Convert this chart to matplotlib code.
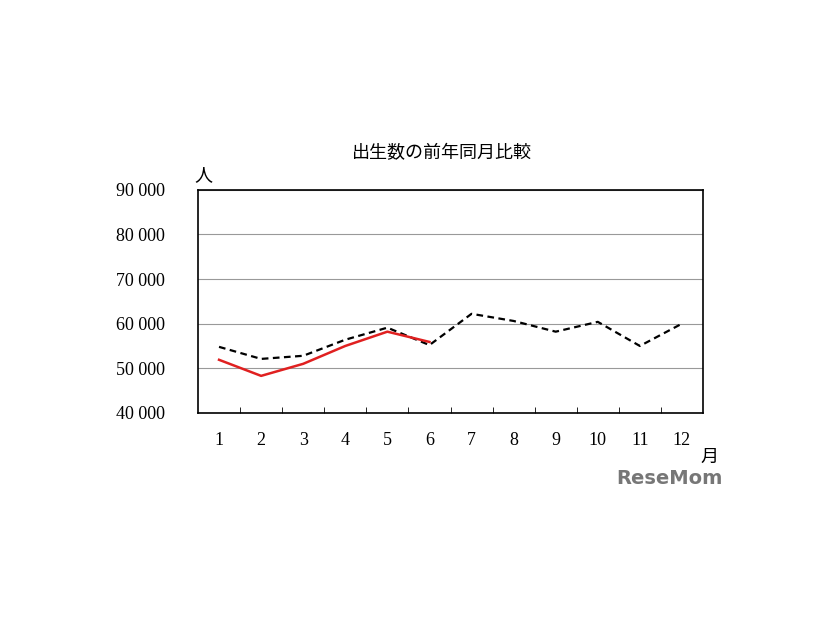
import matplotlib
matplotlib.use("Agg")
import matplotlib.pyplot as plt

months = list(range(1, 13))
prev_year = [54800, 52100, 52800, 56400, 59100, 55200, 62200, 60600, 58200, 60400, 55000, 60000]
this_year = [51900, 48300, 51000, 55000, 58200, 55900]
yticks = [40000, 50000, 60000, 70000, 80000, 90000]
ytick_labels = ["40 000", "50 000", "60 000", "70 000", "80 000", "90 000"]

cjk = ["Noto Sans CJK JP", "DejaVu Sans"]
serif = "Liberation Serif"

fig = plt.figure(figsize=(8.26, 6.2), dpi=100)
ax = fig.add_axes([0.2397, 0.334, 0.6114, 0.360])
ax.plot(months, prev_year, color="black", linestyle=(0, (3, 2)), linewidth=1.6)
ax.plot(months[:len(this_year)], this_year, color="#e02020", linewidth=1.8)
ax.set_xlim(0.5, 12.5)
ax.set_ylim(40000, 90000)
ax.set_yticks(yticks)
ax.set_yticklabels(ytick_labels, fontfamily=serif, fontsize=13)
ax.set_xticks(months)
ax.set_xticklabels([str(m) for m in months], fontfamily=serif, fontsize=13)
ax.set_xticks([m + 0.5 for m in months[:-1]], minor=True)
ax.tick_params(axis="x", which="major", length=0, pad=14)
ax.tick_params(axis="x", which="minor", direction="in", length=4)
ax.tick_params(axis="y", length=0, pad=24)
ax.grid(axis="y", color="#999999", linewidth=0.8)
for s in ax.spines.values():
    s.set_linewidth(1.2)
fig.text(0.535, 0.745, "出生数の前年同月比較", ha="center", fontsize=13, family=cjk)
fig.text(0.235, 0.71, "人", ha="left", fontsize=13, family=cjk)
fig.text(0.848, 0.255, "月", ha="left", fontsize=13, family=cjk)
fig.text(0.81, 0.22, "ReseMom", ha="center", fontsize=14, fontweight="bold", color="#777777", family="DejaVu Sans")
fig.savefig("out.png", dpi=100)
